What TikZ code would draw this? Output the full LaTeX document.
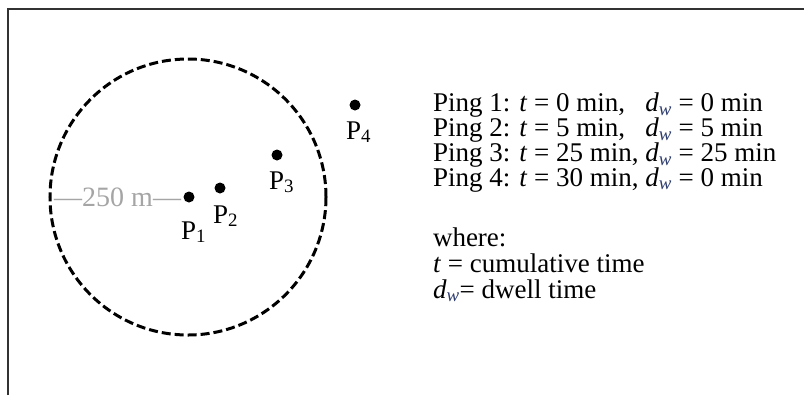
\documentclass[tikz,border=0pt]{standalone}
\usepackage{fontspec}
\setmainfont{Liberation Serif}
\definecolor{subblue}{RGB}{45,60,110}
\definecolor{framegray}{RGB}{50,50,50}
\definecolor{labgray}{RGB}{165,165,165}
\newcommand{\dw}{\textit{d}\textsubscript{\textit{\color{subblue}w}}}
\begin{document}
\begin{tikzpicture}[x=1bp,y=-1bp,
  every node/.style={inner sep=0pt, outer sep=0pt, font=\fontsize{27bp}{30bp}\selectfont},
  pingdot/.style={circle, fill=black, minimum size=11bp},
  plabel/.style={anchor=base west},
  legend/.style={anchor=base west, align=left},
  zone/.style={draw=black, line width=3bp, dash pattern=on 9bp off 4bp},
  frameline/.style={draw=framegray, line width=1.6bp}]
\useasboundingbox (0,0) rectangle (804,395);
% frame
\coordinate (fl) at (8,395);
\coordinate (fc) at (8,9);
\coordinate (fr) at (804,9);
\draw[frameline] (fl) -- (fc) -- (fr);
% zone of 250 m around P1
\node[zone, circle, minimum size=276bp] (zone) at (188,197) {};
% pings
\node[pingdot] (p1) at (189,197) {};
\node[pingdot] (p2) at (220,188) {};
\node[pingdot] (p3) at (277,155) {};
\node[pingdot] (p4) at (355,105) {};
\node[plabel] (l1) at (181,239) {P\textsubscript{1}};
\node[plabel] (l2) at (213,223) {P\textsubscript{2}};
\node[plabel] (l3) at (269,189) {P\textsubscript{3}};
\node[plabel] (l4) at (346,139) {P\textsubscript{4}};
\node[anchor=base east, text=labgray, font=\fontsize{28bp}{30bp}\selectfont] (rad) at (181,206) {—250 m—};
% legend (anchor base = baseline of the last line)
\node[legend, font=\fontsize{27bp}{24.7bp}\selectfont] (pings) at (433,186) {%
Ping 1: \textit{t} = 0 min,\phantom{0} \dw{} = 0 min\\
Ping 2: \textit{t} = 5 min,\phantom{0} \dw{} = 5 min\\
Ping 3: \textit{t} = 25 min, \dw{} = 25 min\\
Ping 4: \textit{t} = 30 min, \dw{} = 0 min};
\node[legend, font=\fontsize{27bp}{26bp}\selectfont] (where) at (433,298) {%
where:\\
\textit{t} = cumulative time\\
\dw{}= dwell time};
\end{tikzpicture}
\end{document}
